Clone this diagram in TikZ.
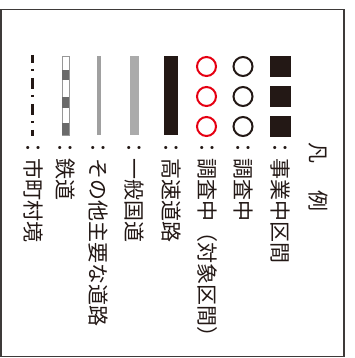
\documentclass[tikz,border=0pt]{standalone}
\usepackage{fontspec}
\newfontfamily\jp{Noto Sans CJK JP}
\definecolor{ink}{HTML}{231815}
\definecolor{jred}{HTML}{E60012}
\definecolor{frame}{HTML}{3E3A39}
\definecolor{natroad}{HTML}{ABABAB}
\definecolor{minroad}{HTML}{A0A0A0}
\definecolor{rail}{HTML}{6A6A6A}
\begin{document}
\begin{tikzpicture}[x=1pt,y=-1pt,
  lbl/.style={rotate=-90, anchor=west, inner sep=0pt, font=\jp\fontsize{21}{25}\selectfont, text=ink, text height=18.5pt, text depth=2.5pt},
  ttl/.style={rotate=-90, inner sep=0pt, font=\jp\fontsize{21}{25}\selectfont, text=ink},
  sq/.style={fill=ink, minimum size=21pt, inner sep=0pt},
  ring/.style={circle, draw=#1, line width=2pt, minimum size=19pt, inner sep=0pt},
]
\useasboundingbox (0,0) rectangle (354,358);
\draw[line width=1.5pt, draw=frame, fill=white] (1,9.5) rectangle (344,356.5);

% title
\node[ttl] (t1) at (318,153) {凡};
\node[ttl] (t2) at (318,201) {例};

% squares
\node[sq] (s1) at (280.5,66.5) {};
\node[sq] (s2) at (280.5,96.5) {};
\node[sq] (s3) at (280.5,126.5) {};
% black circles
\node[ring=ink] (c1) at (243,66.5) {};
\node[ring=ink] (c2) at (243,96.5) {};
\node[ring=ink] (c3) at (243,126.5) {};
% red circles
\node[ring=jred] (r1) at (206.5,66.5) {};
\node[ring=jred] (r2) at (206.5,96.5) {};
\node[ring=jred] (r3) at (206.5,126.5) {};
% expressway
\fill[ink] (164,56) rectangle (178,135.5);
% national road
\fill[natroad] (130,56) rectangle (139,135.5);
% other main road
\fill[minroad] (97,56) rectangle (100.5,135.5);
% railway
\draw[draw=rail!70, line width=0.8pt, fill=white] (62,56) rectangle (69,135.5);
\fill[rail] (62,70) rectangle (69,80);
\fill[rail] (62,97) rectangle (69,108);
\fill[rail] (62,123.5) rectangle (69,135.5);
% municipal boundary
\coordinate (b1) at (32.5,55);
\coordinate (b2) at (32.5,136);
\draw[ink, line width=3pt, dash pattern=on 11pt off 6pt on 2pt off 7pt, dash phase=3pt] (b1) -- (b2);

% labels
\node[lbl] (l1) at (280.5,137.5) {：事業中区間};
\node[lbl] (l2) at (243,137.5) {：調査中};
\node[lbl] (l3) at (207,137.5) {：調査中（対象区間）};
\node[lbl] (l4) at (171.5,137.5) {：高速道路};
\node[lbl] (l5) at (134.5,137.5) {：一般国道};
\node[lbl] (l6) at (98.5,137.5) {：その他主要な道路};
\node[lbl] (l7) at (65.5,137.5) {：鉄道};
\node[lbl] (l8) at (33,137.5) {：市町村境};
\end{tikzpicture}
\end{document}
